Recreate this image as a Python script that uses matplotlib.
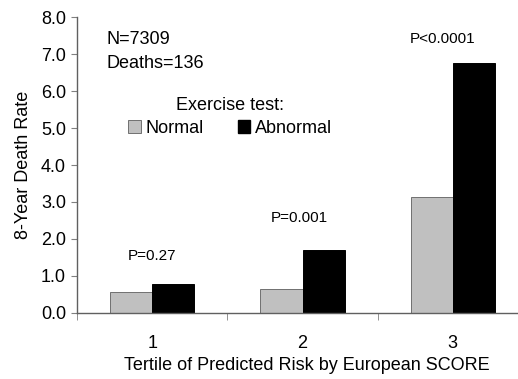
import matplotlib
matplotlib.use("Agg")
import matplotlib.pyplot as plt
from matplotlib.patches import Patch
import numpy as np

plt.rcParams['font.family'] = ['Liberation Sans', 'DejaVu Sans']

categories = ["1", "2", "3"]
normal = [0.57, 0.65, 3.14]
abnormal = [0.77, 1.70, 6.76]
p_labels = ["P=0.27", "P=0.001", "P<0.0001"]
yticks = [0.0, 1.0, 2.0, 3.0, 4.0, 5.0, 6.0, 7.0, 8.0]
series_names = ["Normal", "Abnormal"]

FS = 13
W, H = 518, 379
fig = plt.figure(figsize=(W / 100, H / 100), dpi=100)
left, right, top, bottom = 77, 528, 17.3, 312.7
ax = fig.add_axes([left / W, 1 - bottom / H, (right - left) / W, (bottom - top) / H])

x = np.arange(len(categories))
bw = 0.28
ax.bar(x - bw / 2, normal, bw, color="#c0c0c0", edgecolor="#707070", linewidth=0.7, label=series_names[0])
ax.bar(x + bw / 2, abnormal, bw, color="#000000", edgecolor="#000000", linewidth=0.7, label=series_names[1])

ax.set_xlim(-0.5, 2.5)
ax.set_ylim(0, 8.0)
ax.set_yticks(yticks)
ax.set_yticklabels([f"{v:.1f}" for v in yticks])
ax.set_xticks(x)
ax.set_xticklabels(categories)
ax.set_xticks([-0.5, 0.5, 1.5, 2.5], minor=True)
ax.tick_params(axis='x', which='major', length=0, pad=16, labelsize=FS)
ax.tick_params(axis='x', which='minor', length=5, color="#808080", direction='out')
ax.tick_params(axis='y', length=4, color="#808080", labelsize=FS, pad=4)

for s in ['top', 'right']:
    ax.spines[s].set_visible(False)
for s in ['left', 'bottom']:
    ax.spines[s].set_color("#606060")
    ax.spines[s].set_linewidth(1.0)

ax.set_ylabel("8-Year Death Rate", fontsize=FS, labelpad=6)
ax.set_xlabel("Tertile of Predicted Risk by European SCORE", fontsize=FS)
ax.xaxis.label.set_va('center')
ax.xaxis.set_label_coords((307 - left) / (right - left), -(366 - bottom) / (bottom - top), transform=ax.transAxes)

offsets = [0.77, 0.87, 0.66]
xoff = [0.0, -0.02, -0.07]
for i, lab in enumerate(p_labels):
    ymax = max(normal[i], abnormal[i])
    ax.text(x[i] + xoff[i], ymax + offsets[i], lab, ha='center', va='center', fontsize=11)

fig.text(106 / W, 1 - 40 / H, "N=7309", ha='left', va='center', fontsize=FS)
fig.text(106 / W, 1 - 63 / H, "Deaths=136", ha='left', va='center', fontsize=FS)

handles = [Patch(facecolor="#c0c0c0", edgecolor="#707070", linewidth=0.7),
           Patch(facecolor="#000000", edgecolor="#000000")]
leg = fig.legend(handles, series_names, ncol=2, title="Exercise test:", frameon=False,
                 loc='center', bbox_to_anchor=(230 / W, 1 - 117 / H),
                 fontsize=FS, title_fontsize=FS, handlelength=0.7, handleheight=0.7,
                 handletextpad=0.25, columnspacing=1.9, borderpad=0, labelspacing=0.3)

fig.savefig("out.png", dpi=100)
